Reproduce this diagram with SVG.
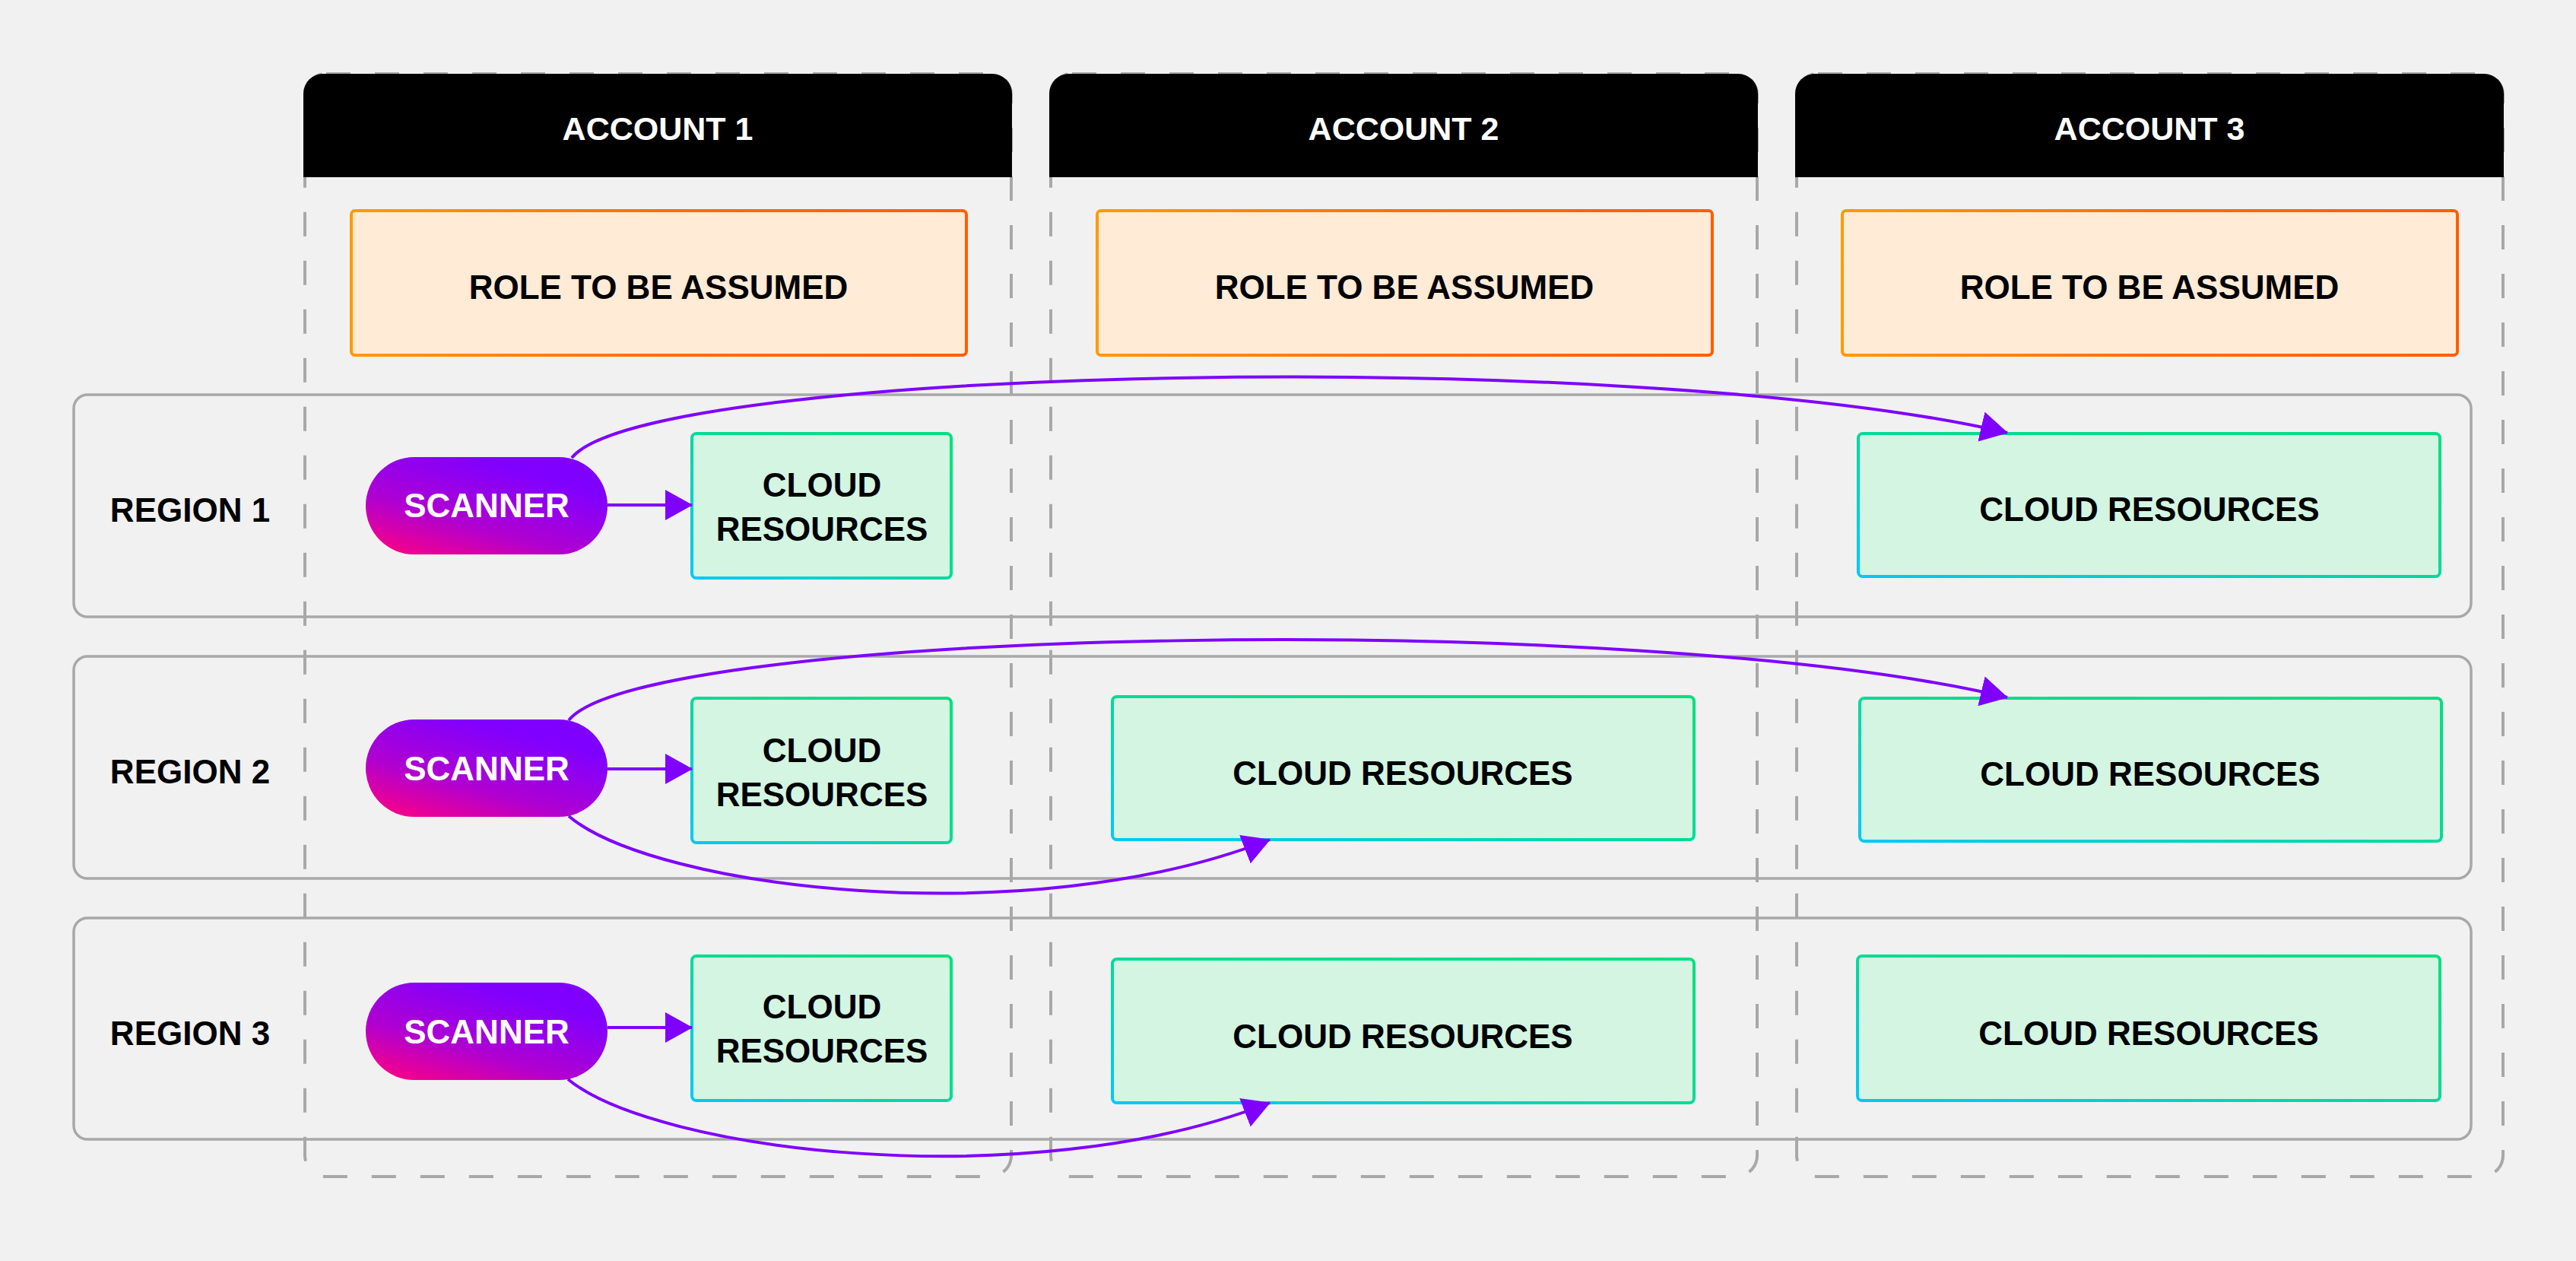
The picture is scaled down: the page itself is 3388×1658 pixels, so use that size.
<svg xmlns="http://www.w3.org/2000/svg" width="3388" height="1658" viewBox="0 0 3388 1658">
<style>
text{font-family:"Liberation Sans",Arial,sans-serif;font-weight:bold;font-size:44px;text-anchor:middle;fill:#000}
.hdr text{fill:#fff;font-size:43px}
.body{fill:none;stroke:#A8A8A8;stroke-width:4;stroke-dasharray:32 32}
.head{fill:#000}
.region{fill:none;stroke:#A8A8A8;stroke-width:3.5}
.role{fill:#FFEBD6;stroke:url(#gRole);stroke-width:4}
.cloud{fill:#D3F5E2;stroke:url(#gCloud);stroke-width:4}
.scan{fill:url(#gScan)}
.scan-t{fill:#fff}
.conn{fill:none;stroke:#7F00FF;stroke-width:4;marker-end:url(#arr)}
</style>
<defs>
<linearGradient id="gRole" x1="0" y1="0" x2="1" y2="0">
<stop offset="0" stop-color="#FF9A00"/><stop offset="0.5" stop-color="#FF6E00"/><stop offset="1" stop-color="#FF5E00"/>
</linearGradient>
<linearGradient id="gCloud" x1="0" y1="1" x2="1" y2="0">
<stop offset="0" stop-color="#00C8F8"/><stop offset="0.55" stop-color="#00DC90"/><stop offset="1" stop-color="#00E080"/>
</linearGradient>
<linearGradient id="gScan" x1="0.05" y1="1" x2="0.65" y2="0.15">
<stop offset="0" stop-color="#FF0080"/><stop offset="0.45" stop-color="#B000D0"/><stop offset="1" stop-color="#8000FF"/>
</linearGradient>
<marker id="arr" markerUnits="userSpaceOnUse" viewBox="0 0 36 40" refX="35" refY="20" markerWidth="36" markerHeight="40" orient="auto">
<path d="M0,0 L36,20 L0,40 Z" fill="#7F00FF"/>
</marker>
</defs>
<rect width="3388" height="1658" fill="#F1F1F1"/>

<g id="regions">
<g id="region1"><rect class="region" x="97" y="519" width="3153" height="292" rx="18"/><text x="250" y="686">REGION 1</text></g>
<g id="region2"><rect class="region" x="97" y="863" width="3153" height="292" rx="18"/><text x="250" y="1030">REGION 2</text></g>
<g id="region3"><rect class="region" x="97" y="1207" width="3153" height="291" rx="18"/><text x="250" y="1374">REGION 3</text></g>
</g>

<g id="account1">
<rect class="body" x="401" y="97" width="929" height="1450" rx="28"/>
<path class="head" d="M399 233 V123 A26 26 0 0 1 425 97 H1305 A26 26 0 0 1 1331 123 V233 Z"/>
<g class="hdr"><text x="865" y="184">ACCOUNT 1</text></g>
</g>
<g id="account2">
<rect class="body" x="1382" y="97" width="929" height="1450" rx="28"/>
<path class="head" d="M1380 233 V123 A26 26 0 0 1 1406 97 H2286 A26 26 0 0 1 2312 123 V233 Z"/>
<g class="hdr"><text x="1846" y="184">ACCOUNT 2</text></g>
</g>
<g id="account3">
<rect class="body" x="2363" y="97" width="929" height="1450" rx="28"/>
<path class="head" d="M2361 233 V123 A26 26 0 0 1 2387 97 H3267 A26 26 0 0 1 3293 123 V233 Z"/>
<g class="hdr"><text x="2827" y="184">ACCOUNT 3</text></g>
</g>

<g id="role1"><rect class="role" x="462" y="277" width="809" height="190" rx="5"/><text x="866" y="393">ROLE TO BE ASSUMED</text></g>
<g id="role2"><rect class="role" x="1443" y="277" width="809" height="190" rx="5"/><text x="1847" y="393">ROLE TO BE ASSUMED</text></g>
<g id="role3"><rect class="role" x="2423" y="277" width="809" height="190" rx="5"/><text x="2827" y="393">ROLE TO BE ASSUMED</text></g>

<g id="scanner1"><rect class="scan" x="481" y="601" width="318" height="128" rx="64"/><text class="scan-t" x="640" y="680">SCANNER</text></g>
<g id="scanner2"><rect class="scan" x="481" y="946" width="318" height="128" rx="64"/><text class="scan-t" x="640" y="1026">SCANNER</text></g>
<g id="scanner3"><rect class="scan" x="481" y="1292" width="318" height="128" rx="64"/><text class="scan-t" x="640" y="1372">SCANNER</text></g>

<g id="cloud-r1-a1"><rect class="cloud" x="910" y="570" width="341" height="190" rx="6"/><text x="1081" y="653">CLOUD</text><text x="1081" y="711">RESOURCES</text></g>
<g id="cloud-r2-a1"><rect class="cloud" x="910" y="918" width="341" height="190" rx="6"/><text x="1081" y="1002">CLOUD</text><text x="1081" y="1060">RESOURCES</text></g>
<g id="cloud-r3-a1"><rect class="cloud" x="910" y="1257" width="341" height="190" rx="6"/><text x="1081" y="1339">CLOUD</text><text x="1081" y="1397">RESOURCES</text></g>

<g id="cloud-r1-a3"><rect class="cloud" x="2444" y="570" width="765" height="188" rx="6"/><text x="2827" y="685">CLOUD RESOURCES</text></g>
<g id="cloud-r2-a2"><rect class="cloud" x="1463" y="916" width="765" height="188" rx="6"/><text x="1845" y="1032">CLOUD RESOURCES</text></g>
<g id="cloud-r2-a3"><rect class="cloud" x="2446" y="918" width="765" height="188" rx="6"/><text x="2828" y="1033">CLOUD RESOURCES</text></g>
<g id="cloud-r3-a2"><rect class="cloud" x="1463" y="1261" width="765" height="189" rx="6"/><text x="1845" y="1378">CLOUD RESOURCES</text></g>
<g id="cloud-r3-a3"><rect class="cloud" x="2443" y="1257" width="766" height="190" rx="6"/><text x="2826" y="1374">CLOUD RESOURCES</text></g>

<g id="connectors">
<path class="conn" d="M799 664 L910 664"/>
<path class="conn" d="M799 1011 L910 1011"/>
<path class="conn" d="M799 1351 L910 1351"/>
<path class="conn" d="M752 602 C850 480 2150 455 2640 569"/>
<path class="conn" d="M748 947 C846 825 2150 800 2640 917"/>
<path class="conn" d="M748 1073 C860 1168 1350 1229 1670 1104"/>
<path class="conn" d="M747 1419 C860 1513 1350 1575 1670 1450"/>
</g>
</svg>
